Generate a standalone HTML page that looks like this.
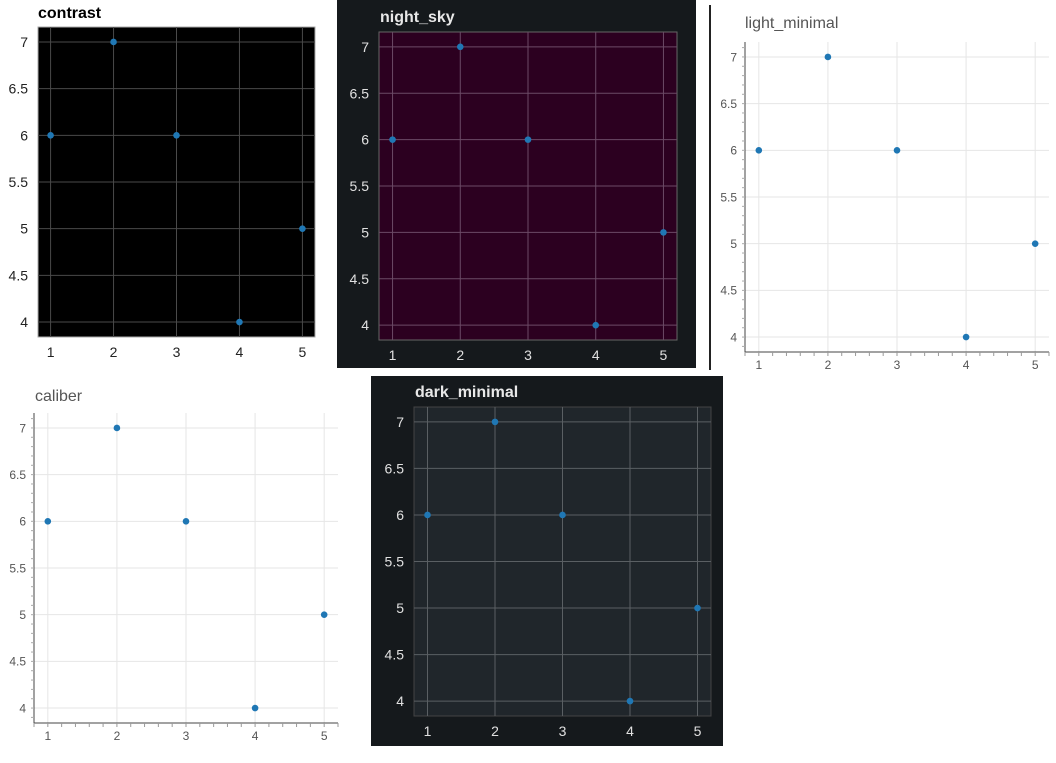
<!DOCTYPE html>
<html><head><meta charset="utf-8">
<style>
html,body{margin:0;padding:0;background:#fff;width:1056px;height:763px;overflow:hidden}
svg{display:block}
</style></head>
<body>
<svg id="root" width="1056" height="763" xmlns="http://www.w3.org/2000/svg">
<rect x="337" y="0" width="359" height="368" fill="#15191c"/>
<rect x="371" y="376" width="352" height="370" fill="#15191c"/>
<rect x="709" y="5" width="2" height="365" fill="#222"/>
</svg>
<script>
const xValues = [1, 2, 3, 4, 5];
const yValues = [6, 7, 6, 4, 5];
const xTicks = [1, 2, 3, 4, 5];
const yTicks = [4, 4.5, 5, 5.5, 6, 6.5, 7];
const yTickLabels = ["4", "4.5", "5", "5.5", "6", "6.5", "7"];
const xDomain = [0.8, 5.2];
const yDomain = [3.84, 7.16];

const NS = "http://www.w3.org/2000/svg";
const root = document.getElementById('root');
function mk(tag, attrs, parent) {
  const e = document.createElementNS(NS, tag);
  for (const k in attrs) e.setAttribute(k, attrs[k]);
  (parent || root).appendChild(e);
  return e;
}

const panels = [
  {id:'contrast', title:'contrast', l:38, r:315, t:27, b:337, bg:'#000', grid:'#4a4a4a', border:'#aaa',
   tc:'#000', tb:true, ts:16, tx:38, ty:18, lc:'#222', ls:14, font:'"Liberation Sans", sans-serif', minimal:false},
  {id:'night-sky', title:'night_sky', l:379, r:677, t:32, b:340, bg:'#2c0020', grid:'#6b4a66', border:'#666',
   tc:'#e8e8e8', tb:true, ts:16, tx:380, ty:22, lc:'#e0e0e0', ls:14, font:'"Liberation Sans", sans-serif', minimal:false},
  {id:'light-minimal', title:'light_minimal', l:745, r:1049, t:42, b:352, bg:'#fff', grid:'#e6e6e6', border:'none',
   tc:'#555', tb:false, ts:16, tx:745, ty:28, lc:'#555', ls:12, font:'"Liberation Sans", sans-serif', minimal:true},
  {id:'caliber', title:'caliber', l:34, r:338, t:413, b:723, bg:'#fff', grid:'#e6e6e6', border:'none',
   tc:'#555', tb:false, ts:16, tx:35, ty:401, lc:'#555', ls:12, font:'"Liberation Sans", sans-serif', minimal:true},
  {id:'dark-minimal', title:'dark_minimal', l:414, r:711, t:407, b:716, bg:'#20262b', grid:'#5a5f63', border:'#444',
   tc:'#e8e8e8', tb:true, ts:16, tx:415, ty:397, lc:'#e0e0e0', ls:14, font:'"Liberation Sans", sans-serif', minimal:false}
];

panels.forEach(p => {
  const g = mk('g', {});
  
  
  const sx = v => p.l + (v - xDomain[0]) / (xDomain[1] - xDomain[0]) * (p.r - p.l);
  const sy = v => p.b - (v - yDomain[0]) / (yDomain[1] - yDomain[0]) * (p.b - p.t);

  const bg = mk('rect', {x:p.l, y:p.t, width:p.r-p.l, height:p.b-p.t, fill:p.bg, stroke:p.border, 'stroke-width':1}, g);
  
  

  xTicks.forEach(v => {
    const ln = mk('line', {x1:sx(v), x2:sx(v), y1:p.t, y2:p.b, stroke:p.grid, 'stroke-width':1}, g);
    
    
    const tx = mk('text', {x:sx(v), y:p.b + (p.minimal?17:20), 'text-anchor':'middle', fill:p.lc, 'font-size':p.ls, 'font-family':p.font}, g);
    tx.textContent = String(v);
    
    
  });
  yTicks.forEach((v, i) => {
    const ln = mk('line', {x1:p.l, x2:p.r, y1:sy(v), y2:sy(v), stroke:p.grid, 'stroke-width':1}, g);
    
    
    const tx = mk('text', {x:p.l - (p.minimal?8:10), y:sy(v) + p.ls*0.36, 'text-anchor':'end', fill:p.lc, 'font-size':p.ls, 'font-family':p.font}, g);
    tx.textContent = yTickLabels[i];
    
    
  });

  if (p.minimal) {
    const ax = mk('line', {x1:p.l, x2:p.r, y1:p.b, y2:p.b, stroke:'#444', 'stroke-width':1}, g);
    
    
    const ay = mk('line', {x1:p.l, x2:p.l, y1:p.t, y2:p.b, stroke:'#444', 'stroke-width':1}, g);
    
    
    for (let v = 0.8; v <= 5.21; v += 0.2) {
      const t = mk('line', {x1:sx(v), x2:sx(v), y1:p.b, y2:p.b + 4, stroke:'#999', 'stroke-width':1}, g);
      
      
    }
    for (let v = 3.9; v <= 7.11; v += 0.1) {
      const t = mk('line', {x1:p.l - 3, x2:p.l, y1:sy(v), y2:sy(v), stroke:'#aaa', 'stroke-width':1}, g);
      
      
    }
  }

  xValues.forEach((xv, i) => {
    const c = mk('circle', {cx:sx(xv), cy:sy(yValues[i]), r:3.3, fill:'#1f77b4'}, g);
    
    
  });

  const tt = mk('text', {x:p.tx, y:p.ty, fill:p.tc, 'font-size':p.ts, 'font-weight':p.tb?'bold':'normal', 'font-family':p.font}, g);
  tt.textContent = p.title;
  
  
});
</script>
</body></html>
